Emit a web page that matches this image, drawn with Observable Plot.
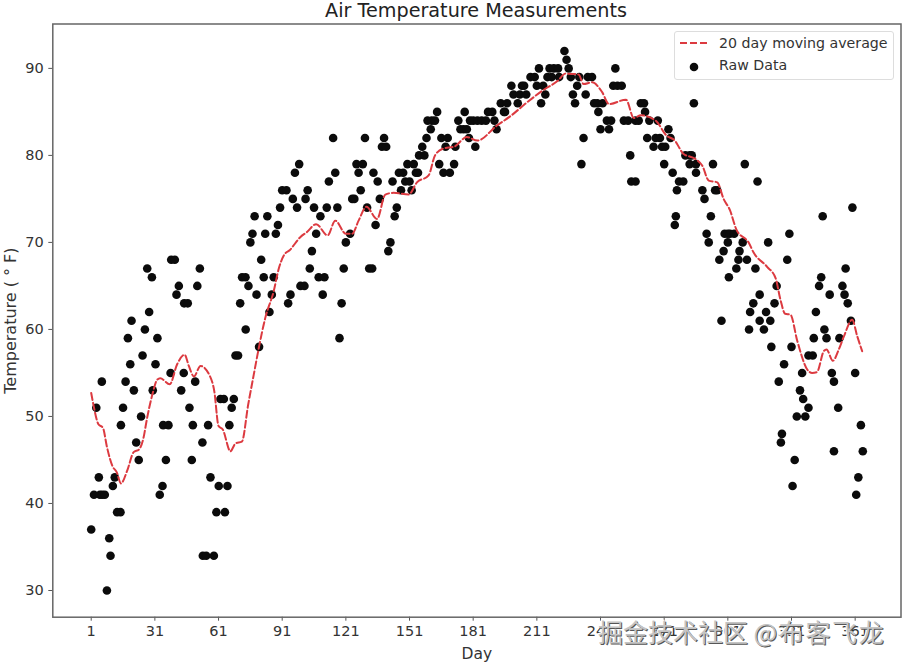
<!DOCTYPE html>
<html>
<head>
<meta charset="utf-8">
<script src="https://cdn.jsdelivr.net/npm/d3@7"></script>
<script src="https://cdn.jsdelivr.net/npm/@observablehq/plot@0.6"></script>
<style>
  html, body { margin: 0; padding: 0; background: #fff; }
  #wrap { position: relative; width: 902px; height: 664px; overflow: hidden; font-family: "DejaVu Sans", sans-serif; }
  #wrap svg { display: block; }
  #title { position: absolute; left: 52px; width: 848px; top: 0; line-height: 22px; text-align: center; font-size: 19.2px; color: #222; }
  #legend { position: absolute; left: 674px; top: 31px; width: 218px; height: 47px; border: 1px solid #ddd; border-radius: 3px; background: rgba(255,255,255,.85); font-size: 14.2px; color: #333; }
  #legend div { position: absolute; left: 44px; line-height: 18px; white-space: nowrap; }
  #legend svg { position: absolute; left: 0; top: 0; }
  #mark { position: absolute; left: 598px; top: 613px; line-height: 36px; font-family: "Noto Sans CJK SC", sans-serif; font-size: 25px; color: #c4c4c4; white-space: nowrap; text-shadow: 1px 1px 0 #555, -1px -1px 0 #fff; }
  #mark span { letter-spacing: 1.6px; }
</style>
</head>
<body>
<div id="wrap">
  <div id="chart"></div>
  <div id="title"></div>
  <div id="legend"></div>
  <div id="mark"></div>
</div>
<script>
const titleText = "Air Temperature Measurements";
const xLabel = "Day";
const yLabel = "Temperature ( ° F)";
const avgLabel = "20 day moving average";
const rawLabel = "Raw Data";
const watermarkSite = "掘金技术社区 ";
const watermarkUser = "@布客飞龙";
const xTicks = [1, 31, 61, 91, 121, 151, 181, 211, 241, 271, 301, 331, 361];
const yTicks = [30, 40, 50, 60, 70, 80, 90];

const rawDays = [
  1,2.3,3.4,4.6,5.1,6,6.2,7.4,8.4,9.5,10.1,11.2,12.1,13.2,14.8,15,16,17.2,18.3,19.4,20,21.1,22.2,23.4,24.5,25.2,26.3,27.4,28.3,29.6,
  30,31.3,32.2,33.3,34.6,34.9,36.2,37.4,38.4,38.7,40.4,41.2,42.3,43.4,44.6,44.8,46.5,47.3,48.4,48.9,50,51,52.2,53.4,53.6,55.2,56.1,57.2,58.8,60,
  61.1,61.9,63.5,64,65.2,66.1,67.2,68.2,69,70.2,71.2,72.1,73.7,73.8,75.1,76,77,78,78.9,80.1,81.1,82.3,83,84,85,86.1,87,88,89,90,
  91,93,93.8,94.9,96,97,98,99,99.6,101.5,102,103,104,105,106,107,108.2,109,110.1,110.9,112,113,115,116,117,118,119,120,121,123,
  124,125,126,127,128,129,130,131,132,133.4,134,135,136,137,138,139,140,141,142,143,144,145,146,147,148,149,150,151,152,153,
  154,155,155.5,157,158,159,159.5,161,161.5,163,164,165,166,167,168,169,170,172,172.6,174,175,176.5,177,178,179,179.5,181,182,183,185,
  187,188,190,191,192,194,195.5,196,197,199,200,202,203,204,205,206,208,210,211,212,213,214,215,216,217,218,219,221,221.5,224,
  225,226,227,228,229,230,231,232,233,234,235,237,238,239.5,240,241,242,244,245,246,247,248,249,251,252,254,255,255.5,257.5,257.5,
  259,260,261.5,262,263,264,266,267,268,269,270,271,271.5,273,274,275,276,276.5,277,278,280,281,283,283,284,285,286,286,289,290,
  291,292,293,294,295,296,297,298,299,299.5,301,301.5,301,302,304,305,306,306.5,308,309,310,311,311.5,313,314,315,316,316,318,319,
  320,321,321.5,323,324,325,326,326.5,327.5,329,330,331,331.5,332.5,333.5,335,336,336.5,337.5,339,339,341,341.5,342.5,344,345,345.7,346.5,347.5,349,
  350,351,351,353,353.6,355,356,356.5,357.5,359,359.7,361,361.5,362.5,363.7,364.6
];
const rawTemps = [
  37,41,51,43,41,54,41,41,30,36,34,42,43,39,39,49,51,54,59,56,61,53,47,45,50,57,60,67,62,66,
  53,56,59,41,42,49,45,49,55,68,68,64,65,53,55,63,63,51,45,49,54,65,67,47,34,34,49,43,34,39,
  42,52,52,39,42,49,51,52,57,57,63,66,66,60,65,70,71,73,64,58,68,66,71,73,62,64,66,71,72,74,
  76,76,63,64,75,78,74,79,65,65,75,76,67,69,74,71,66,73,64,66,74,77,82,78,74,59,63,67,70,71,
  75,75,79,78,76,79,82,74,67,67,78,72,77,75,81,82,81,69,70,77,73,74,78,76,78,77,79,77,76,79,
  78,78,80,81,80,82,84,83,84,84,85,79,82,78,81,82,78,79,81,84,83,83,85,83,82,84,84,81,84,84,
  84,85,85,84,83,86,85,85,86,88,87,86,87,88,88,87,89,89,88,90,86,88,87,89,90,89,90,90,89,92,
  91,90,89,87,86,88,89,79,82,87,89,89,86,86,85,83,86,84,83,84,88,90,88,88,84,84,80,77,77,84,
  84,86,86,85,82,84,81,82,84,82,81,79,81,83,82,78,72,73,76,77,77,80,80,79,80,86,79,78,76,75,
  71,70,73,79,76,76,68,61,69,71,71,66,70,71,71,67,68,69,70,79,68,60,62,63,67,77,64,61,60,62,
  70,61,58,63,65,54,47,48,56,68,71,58,42,45,50,53,55,52,50,51,57,57,59,62,65,66,73,60,59,64,
  55,54,46,51,59,65,64,67,63,61,74,55,41,43,49,46
];

const avgDays = [
  1,2,4.4,6.5,8.5,11,13,15,18,21,23.5,25.5,27.4,30,32,33.5,38,41.5,45,47,49.4,52.5,57,59,61,63,66.6,69,72,75,77.6,80,83,87,89.4,92,94.5,
  99.5,102.7,107,112.4,116,121,124,127,130.7,135.7,139.6,143.5,150.6,154.5,160,163,167,172,178,183,192,198.5,206.4,214,221,224.5,230.7,233,237,
  241.7,245,253,256.7,260,267,272,276,280,285.7,289,292,296,299,302,305,311,313,319.5,323.5,325.8,328,330.5,333.7,338.4,340.7,343,346.2,347.5,350.5,353.3,355.7,359.6,362,364.3
];
const avgTemps = [
  52.7,51.4,49.1,48.7,46.4,44.3,43.6,42.3,43.8,45.9,46.2,47.4,49.9,52.7,54.2,54.4,53.7,56,57.1,55.8,54.6,55.8,54.6,52.9,48.9,48.5,46,46.9,47.1,51.4,54.8,57.9,61.3,64.4,67,68.6,69.1,
  70.6,71.2,72.1,70.8,72.5,71,71,72.5,74.1,72.7,75.5,75.7,75.5,76.9,77.7,80,80.8,81,82.1,81.7,83.4,84.5,86.1,87.5,88.6,89.4,89.3,88.2,88.4,
  87.3,85.9,86.4,84.3,84.6,84,82.3,81.7,80.2,79.6,78.8,77.1,76.9,75,73.7,71.5,69.9,68.9,67.2,65.9,63.4,61.8,61.7,58.7,55.4,55,55.1,57.5,57.7,56.4,57.7,59.2,61.1,59.2,57.5
];

const rawData = rawDays.map((d, i) => ({day: d, temp: rawTemps[i]}));
const avgData = avgDays.map((d, i) => ({day: d, temp: avgTemps[i]}));

const red = "#dc3a40";
const chart = Plot.plot({
  width: 902,
  height: 664,
  marginTop: 23.5,
  marginBottom: 47.3,
  marginLeft: 52.3,
  marginRight: 1.5,
  style: {fontFamily: "DejaVu Sans, sans-serif", background: "#fff", color: "#333"},
  x: {domain: [-17.1, 382.6], label: null},
  y: {domain: [26.93, 95.1], label: null},
  marks: [
    Plot.axisX({ticks: xTicks, tickFormat: d => String(d), tickSize: 4, tickPadding: 5, fontSize: 14.5, stroke: "#555", label: xLabel, labelAnchor: "center", labelArrow: "none", labelOffset: 42}),
    Plot.axisY({ticks: yTicks, tickSize: 4, tickPadding: 5, fontSize: 14.5, stroke: "#555", label: yLabel, labelAnchor: "center", labelArrow: "none", labelOffset: 48}),
    Plot.dot(rawData, {x: "day", y: "temp", r: 4.3, fill: "#0b0b0b", stroke: "none"}),
    Plot.line(avgData, {x: "day", y: "temp", stroke: red, strokeWidth: 2, strokeDasharray: "7 3", curve: "monotone-x"}),
    Plot.frame({stroke: "#666", strokeWidth: 1.5})
  ]
});
document.getElementById("chart").append(chart);
chart.querySelectorAll("g text").forEach(t => {
  if (t.textContent === xLabel) t.style.fontSize = "15.5px";
  if (t.textContent === yLabel) t.style.fontSize = "16px";
});

document.getElementById("title").textContent = titleText;
const mark = document.getElementById("mark");
mark.textContent = watermarkSite;
const user = document.createElement("span");
user.textContent = watermarkUser;
mark.append(user);
const legend = document.getElementById("legend");
legend.innerHTML = `<svg width="218" height="47"><line x1="5" x2="32" y1="11" y2="11" stroke="${red}" stroke-width="2" stroke-dasharray="7 3"/><circle cx="19" cy="35" r="4.3" fill="#0b0b0b"/></svg>`;
[[avgLabel, 2], [rawLabel, 24]].forEach(([txt, top]) => {
  const e = document.createElement("div");
  e.textContent = txt;
  e.style.top = top + "px";
  legend.append(e);
});
</script>
</body>
</html>
